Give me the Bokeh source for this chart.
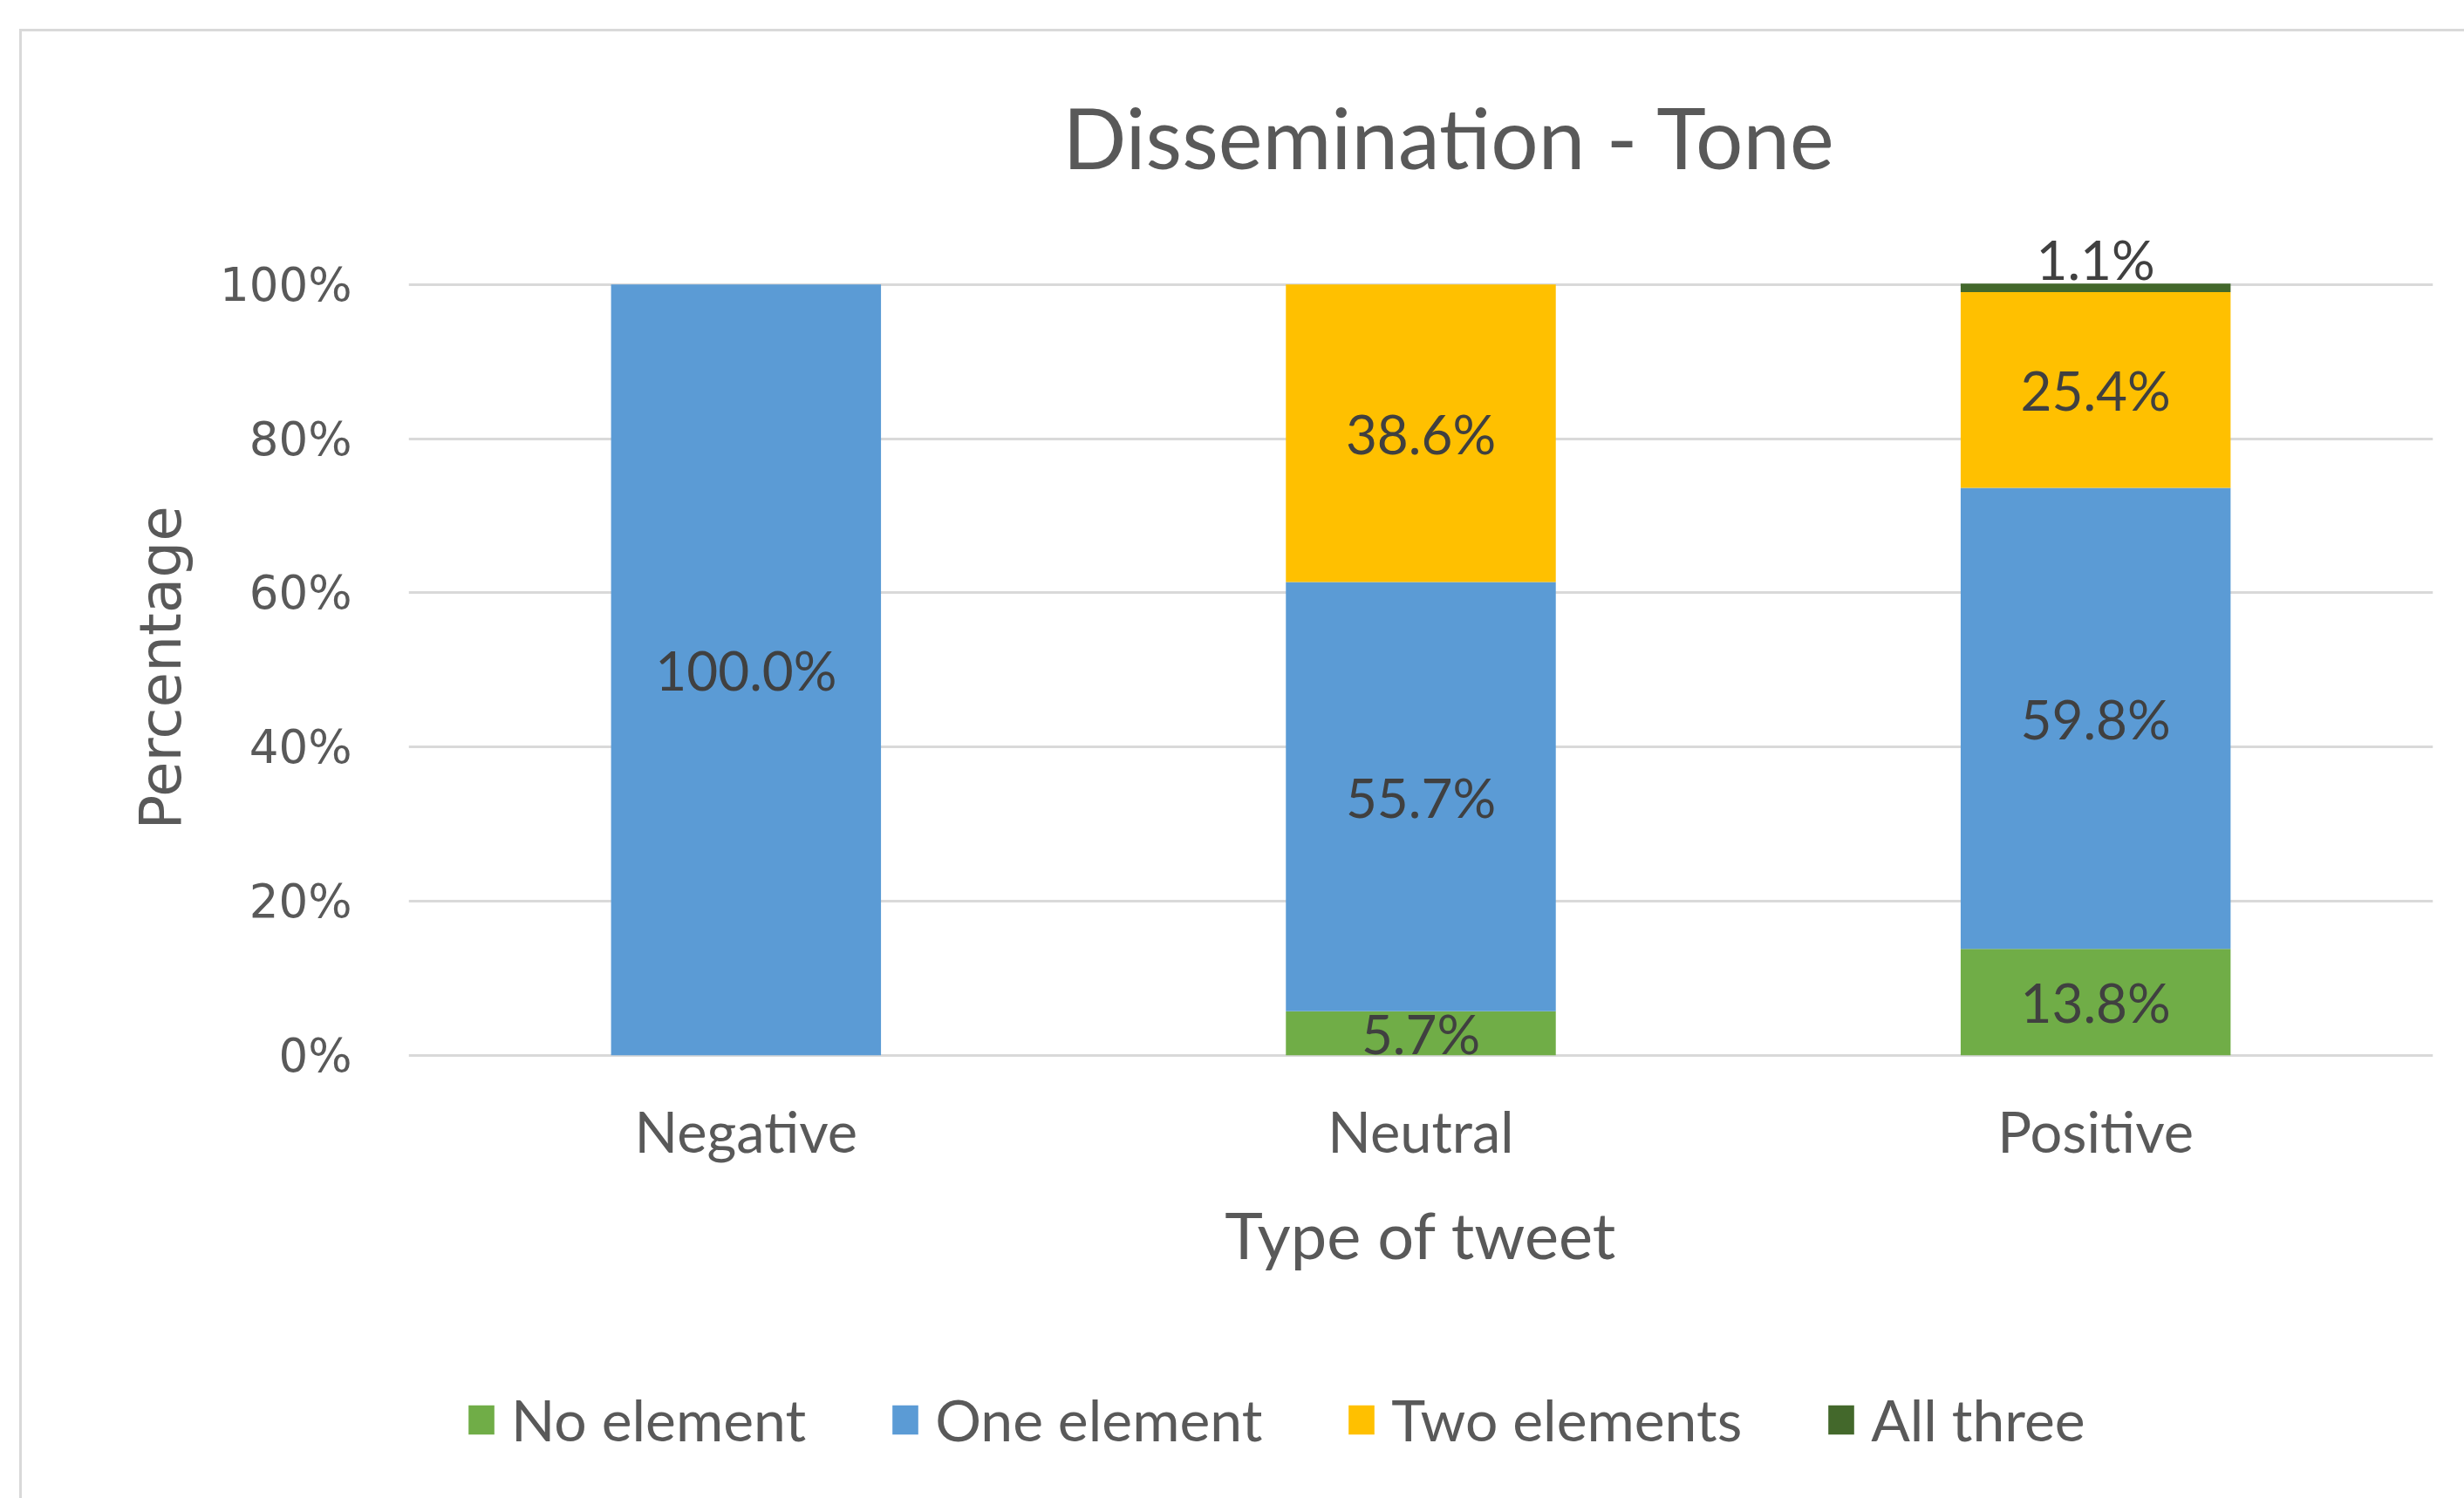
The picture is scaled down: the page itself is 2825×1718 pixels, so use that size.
from bokeh.plotting import figure
from bokeh.models import (ColumnDataSource, LabelSet, Legend, LegendItem, Title,
                          PrintfTickFormatter, FixedTicker, Range1d)
from bokeh.core.properties import value
from bokeh.embed import file_html
from bokeh.resources import INLINE

# Share of tweets by number of dissemination elements, per tone
categories = ["Negative", "Neutral", "Positive"]
series = ["No element", "One element", "Two elements", "All three"]
no_element = [0.0, 5.7, 13.8]
one_element = [100.0, 55.7, 59.8]
two_elements = [0.0, 38.6, 25.4]
all_three = [0.0, 0.0, 1.1]
colors = ["#70ad47", "#5b9bd5", "#ffc000", "#43682b"]
y_ticks = [0, 20, 40, 60, 80, 100]

keys = ["no", "one", "two", "three"]
data = dict(cat=categories, no=no_element, one=one_element,
            two=two_elements, three=all_three)
src = ColumnDataSource(data)

W, H = 2825, 1718
# the plotting frame runs down to the bottom edge so that the category axis
# (pinned at 0%) and the legend both sit inside it
p = figure(width=W, height=H, x_range=categories, y_range=Range1d(-57.5, 108),
           output_backend="svg", toolbar_location=None,
           min_border_left=468, min_border_right=36,
           min_border_top=255, min_border_bottom=0)
p.outline_line_color = None
p.background_fill_color = "white"
p.border_fill_alpha = 0
# light frame around the whole chart area (top and left edges)
p.styles = {
    "background": "linear-gradient(#d9d9d9,#d9d9d9) 22px 33px / 3px 100% no-repeat, "
                  "linear-gradient(#d9d9d9,#d9d9d9) 22px 33px / 100% 3px no-repeat, "
                  "#ffffff"
}

renderers = p.vbar_stack(keys, x="cat", width=0.40, source=src,
                         color=colors, line_color=None)

# title
p.title.text = "Dissemination  - Tone"
p.title.align = "left"
p.title.offset = 750
p.title.standoff = 83
p.title.text_font = "Lato"
p.title.text_font_size = "96px"
p.title.text_font_style = "normal"
p.title.text_color = "#595959"

# axes
p.xgrid.grid_line_color = None
p.ygrid.grid_line_color = "#d9d9d9"
p.ygrid.grid_line_width = 3
p.ygrid.ticker = FixedTicker(ticks=y_ticks)
p.yaxis.ticker = FixedTicker(ticks=y_ticks)
p.yaxis.formatter = PrintfTickFormatter(format="%d%%")
for ax in (p.xaxis[0], p.yaxis[0]):
    ax.axis_line_color = None
    ax.major_tick_line_color = None
    ax.minor_tick_line_color = None
    ax.major_label_text_color = "#595959"
    ax.axis_label_text_color = "#595959"
    ax.axis_label_text_font_style = "normal"

p.yaxis.major_label_text_font = "DejaVu Sans"
p.yaxis.major_label_text_font_size = "53px"
p.yaxis.major_label_standoff = 59

# vertical axis title, centred on the 0-100% span rather than the whole frame
p.add_layout(Title(text="Percentage", align="left", offset=767, standoff=52,
                   text_font="DejaVu Sans", text_font_size="66px",
                   text_font_style="normal", text_color="#595959"), "left")

p.xaxis.fixed_location = 0
p.xaxis.major_label_text_font = "Lato"
p.xaxis.major_label_text_font_size = "65px"
p.xaxis.major_label_standoff = 42
p.xaxis.axis_label = "Type of tweet"
p.xaxis.axis_label_text_font = "Lato"
p.xaxis.axis_label_text_font_size = "74px"
p.xaxis.axis_label_standoff = 31

# value labels centred in each segment (a thin top segment gets its label above the bar)
lx, ly, lt = [], [], []
for i, c in enumerate(categories):
    base = 0.0
    for k in keys:
        v = data[k][i]
        if v > 0:
            lx.append(c)
            mid = base + v / 2
            if v < 2:
                mid = base + v + 3.2
            ly.append(mid)
            lt.append(f"{v:.1f}%")
        base += v
lab_src = ColumnDataSource(dict(x=lx, y=ly, t=lt))
p.add_layout(LabelSet(x="x", y="y", text="t", source=lab_src,
                      text_align="center", text_baseline="middle",
                      text_font=value("Lato"), text_font_size="62px",
                      text_color="#404040"))

legend = Legend(items=[LegendItem(label=s, renderers=[r])
                       for s, r in zip(series, renderers)],
                orientation="horizontal", location=(65, 51),
                glyph_width=37, glyph_height=42, label_standoff=16,
                spacing=95, padding=0, margin=0,
                label_text_font="Lato", label_text_font_size="66px",
                label_text_color="#595959",
                background_fill_alpha=0, border_line_color=None)
p.add_layout(legend, "center")

open("out.html", "w").write(file_html(p, INLINE))
